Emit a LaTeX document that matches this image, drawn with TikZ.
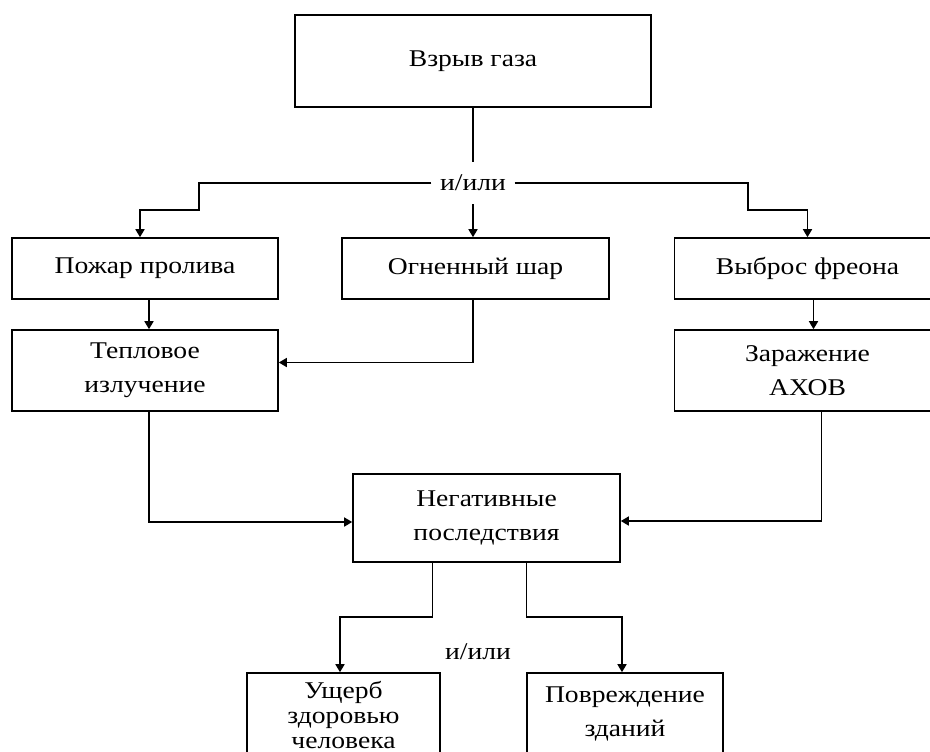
\documentclass[tikz,border=0pt]{standalone}
\usepackage{fontspec}
\setmainfont[FakeStretch=1.15]{Liberation Serif}
\usetikzlibrary{arrows.meta}

\begin{document}
\begin{tikzpicture}[
    x=0.5pt, y=-0.5pt,
    line width=0.8pt,
    >={Triangle[length=4pt,width=4.5pt]},
    every node/.style={font=\fontsize{12}{17}\selectfont},
    blk/.style 2 args={draw, rectangle, inner sep=0pt, align=center,
      minimum width=#1, minimum height=#2},
    orlabel/.style={inner xsep=4pt, inner ysep=0pt, minimum height=20.5pt},
  ]
  \useasboundingbox (0,0) rectangle (930,751);

  % source event
  \node[blk={178pt}{46pt}] (gas) at (473,61) {Взрыв газа};

  % first level: what the explosion leads to
  \node[orlabel] (or1) at (473,183) {и/или};
  \node[blk={133pt}{30.5pt}] (pool) at (145,268.5) {Пожар пролива};
  \node[blk={133.5pt}{30.5pt}] (fball) at (475.5,268.5) {Огненный шар};
  \node[blk={133pt}{30.5pt}] (freon) at (807.5,268.5) {Выброс фреона};

  % damaging factors
  \node[blk={133pt}{40.5pt}] (heat) at (145,370.5) {Тепловое\\излучение};
  \node[blk={133pt}{40.5pt}] (toxic) at (807.5,370.5) {Заражение\\АХОВ};

  % consequences
  \node[blk={133.5pt}{44pt}] (neg) at (486.5,518) {Негативные\\последствия};
  \node (or2) at (478,652) {и/или};
  \node[blk={96.5pt}{42pt}, font=\fontsize{12}{12.5}\selectfont] (health)
    at (343.5,715) {Ущерб\\здоровью\\человека};
  \node[blk={98pt}{41pt}] (build) at (625,714) {Повреждение\\зданий};

  % branching under the explosion
  \coordinate (jL) at (199,210);
  \coordinate (jR) at (748,210);
  \draw (gas.south) -- (or1.north);
  \draw[->] (or1.west) -| (jL) -| ([xshift=-2.5pt]pool.north);
  \draw[->] (or1.south) -- (or1.south |- fball.north);
  \draw[->] (or1.east) -| (jR) -| (freon.north);

  % scenarios to factors
  \draw[->] ([xshift=2pt]pool.south) -- ([xshift=2pt]heat.north);
  \draw[->] (fball.south -| or1) |- ([yshift=4pt]heat.east);
  \draw[->] ([xshift=3pt]freon.south) -- ([xshift=3pt]toxic.north);

  % factors to consequences
  \draw[->] ([xshift=2pt]heat.south) |- ([yshift=-2pt]neg.west);
  \draw[->] ([xshift=7pt]toxic.south) |- ([yshift=-1.5pt]neg.east);

  % final outcomes
  \coordinate (kL) at (340,617);
  \coordinate (kR) at (622,617);
  \draw[->] ([xshift=-27pt]neg.south) |- (kL) -- (kL |- health.north);
  \draw[->] ([xshift=20pt]neg.south) |- (kR) -- (kR |- build.north);
\end{tikzpicture}
\end{document}
